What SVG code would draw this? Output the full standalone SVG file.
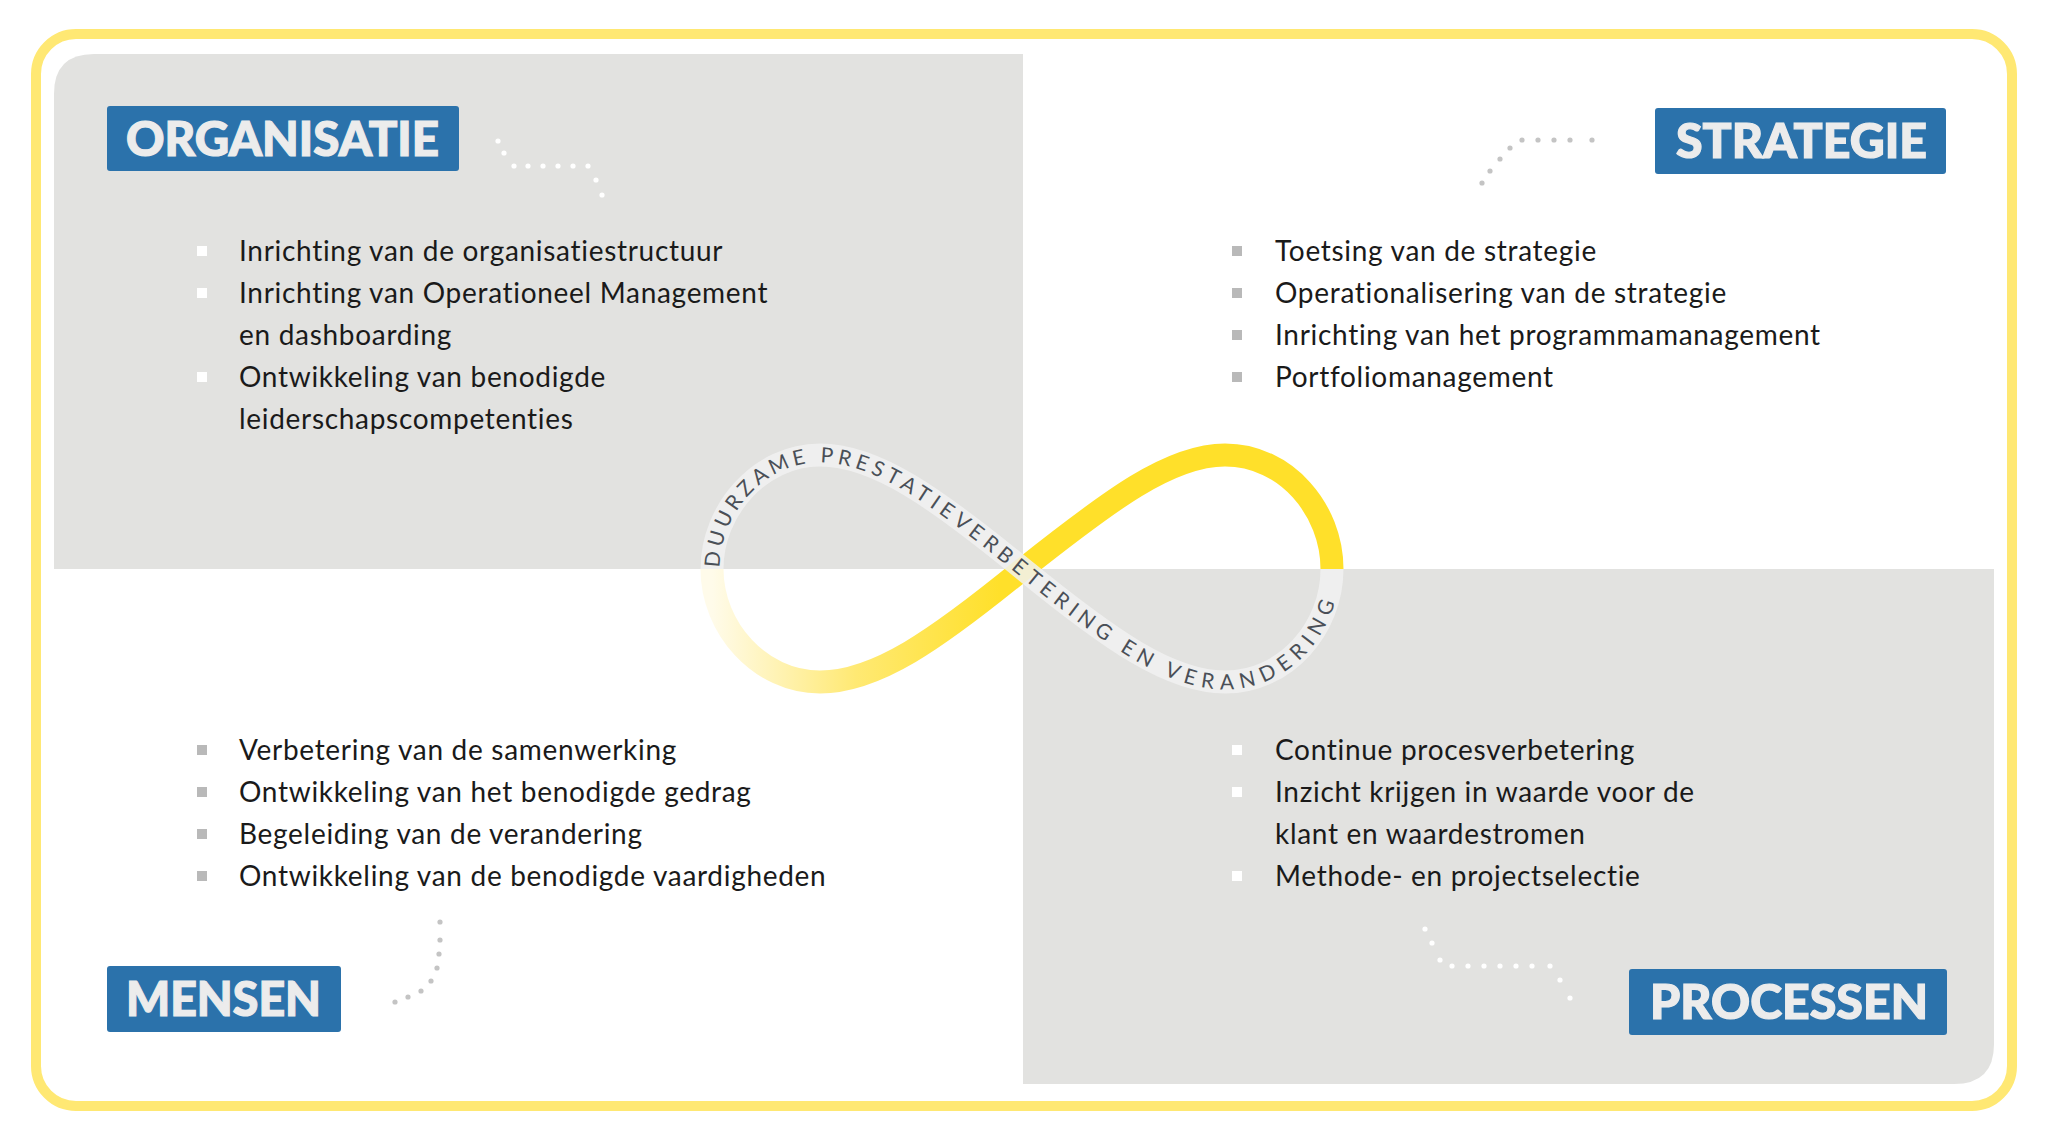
<svg xmlns="http://www.w3.org/2000/svg" xmlns:xlink="http://www.w3.org/1999/xlink" width="2048" height="1137" viewBox="0 0 2048 1137">
<style>
.t{font-family:Lato,"Liberation Sans",sans-serif;font-size:28px;letter-spacing:0.7px;fill:#1a1a1a}
.h{font-family:Lato,"Liberation Sans",sans-serif;font-size:48px;font-weight:900;fill:#ECECEC;stroke:#ECECEC;stroke-width:1.2px}
.box{fill:#2B72AB}
.bw{fill:#FFFFFF}
.bg{fill:#B9B9B9}
.dw{fill:#FFFFFF}
.dg{fill:#C4C4C4}
.inf{font-family:Lato,"Liberation Sans",sans-serif;font-size:21px;fill:#4A4F57}
</style>
<defs>
<linearGradient id="yg" gradientUnits="userSpaceOnUse" x1="712" y1="0" x2="1000" y2="0">
<stop offset="0" stop-color="#FFFBEA"/>
<stop offset="0.5" stop-color="#FFE973"/>
<stop offset="1" stop-color="#FFE02A"/>
</linearGradient>
<path id="tp" d="M712,569 C712,510 760,455 820,455 C876,455 936,498 1023,569 C1110,640 1170,682 1225,682 C1286,682 1332,628 1332,569"/>
</defs>
<rect width="2048" height="1137" fill="#FFFFFF"/>
<rect x="36" y="34" width="1976" height="1072" rx="40" fill="none" stroke="#FFE873" stroke-width="10"/>
<path d="M54,94 Q54,54 94,54 L1023,54 L1023,569 L54,569 Z" fill="#E2E2E0"/>
<path d="M1023,569 L1994,569 L1994,1044 Q1994,1084 1954,1084 L1023,1084 Z" fill="#E2E2E0"/>

<g id="connectors">
<g class="dw">
<circle cx="498" cy="141" r="2.6"/><circle cx="504" cy="153" r="2.6"/><circle cx="514" cy="166" r="2.6"/><circle cx="528" cy="166" r="2.6"/><circle cx="543" cy="166" r="2.6"/><circle cx="558" cy="166" r="2.6"/><circle cx="573" cy="166" r="2.6"/><circle cx="588" cy="166" r="2.6"/><circle cx="596" cy="180" r="2.6"/><circle cx="602" cy="195" r="2.6"/>
</g>
<g class="dg">
<circle cx="1482" cy="183" r="2.6"/><circle cx="1490" cy="171" r="2.6"/><circle cx="1500" cy="159" r="2.6"/><circle cx="1510" cy="148" r="2.6"/><circle cx="1522" cy="140" r="2.6"/><circle cx="1538" cy="140" r="2.6"/><circle cx="1554" cy="140" r="2.6"/><circle cx="1570" cy="140" r="2.6"/><circle cx="1592" cy="140" r="2.6"/>
<circle cx="395" cy="1002" r="2.6"/><circle cx="408" cy="997" r="2.6"/><circle cx="421" cy="991" r="2.6"/><circle cx="431" cy="981" r="2.6"/><circle cx="437" cy="968" r="2.6"/><circle cx="439" cy="954" r="2.6"/><circle cx="440" cy="940" r="2.6"/><circle cx="440" cy="922" r="2.6"/>
</g>
<g class="dw">
<circle cx="1425" cy="929" r="2.6"/><circle cx="1432" cy="943" r="2.6"/><circle cx="1440" cy="960" r="2.6"/><circle cx="1452" cy="966" r="2.6"/><circle cx="1468" cy="966" r="2.6"/><circle cx="1484" cy="966" r="2.6"/><circle cx="1500" cy="966" r="2.6"/><circle cx="1516" cy="966" r="2.6"/><circle cx="1532" cy="966" r="2.6"/><circle cx="1550" cy="966" r="2.6"/><circle cx="1560" cy="980" r="2.6"/><circle cx="1570" cy="998" r="2.6"/>
</g>
</g>

<g id="infinity">
<path d="M712,569 C712,628 760,682 820,682 C876,682 936,640 1023,569 C1110,500 1170,455 1225,455 C1286,455 1332,510 1332,569" fill="none" stroke="url(#yg)" stroke-width="23"/>
<use xlink:href="#tp" fill="none" stroke="#F1F1F1" stroke-width="23" stroke-opacity="0.85"/>
<text class="inf" dy="7.5"><textPath xlink:href="#tp" startOffset="2" textLength="785" lengthAdjust="spacing">DUURZAME PRESTATIEVERBETERING EN VERANDERING</textPath></text>
</g>

<g id="organisatie">
<rect class="box" x="107" y="106" width="352" height="65" rx="3"/>
<text class="h" x="126" y="156" textLength="313" lengthAdjust="spacingAndGlyphs">ORGANISATIE</text>
<rect class="bw" x="197" y="246" width="10" height="10"/>
<text class="t" x="239" y="261">Inrichting van de organisatiestructuur</text>
<rect class="bw" x="197" y="288" width="10" height="10"/>
<text class="t" x="239" y="303">Inrichting van Operationeel Management</text>
<text class="t" x="239" y="345">en dashboarding</text>
<rect class="bw" x="197" y="372" width="10" height="10"/>
<text class="t" x="239" y="387">Ontwikkeling van benodigde</text>
<text class="t" x="239" y="429">leiderschapscompetenties</text>
</g>

<g id="strategie">
<rect class="box" x="1655" y="108" width="291" height="66" rx="3"/>
<text class="h" x="1676" y="158" textLength="251" lengthAdjust="spacingAndGlyphs">STRATEGIE</text>
<rect class="bg" x="1232" y="246" width="10" height="10"/>
<text class="t" x="1275" y="261">Toetsing van de strategie</text>
<rect class="bg" x="1232" y="288" width="10" height="10"/>
<text class="t" x="1275" y="303">Operationalisering van de strategie</text>
<rect class="bg" x="1232" y="330" width="10" height="10"/>
<text class="t" x="1275" y="345">Inrichting van het programmamanagement</text>
<rect class="bg" x="1232" y="372" width="10" height="10"/>
<text class="t" x="1275" y="387">Portfoliomanagement</text>
</g>

<g id="mensen">
<rect class="box" x="107" y="966" width="234" height="66" rx="3"/>
<text class="h" x="126" y="1016" textLength="195" lengthAdjust="spacingAndGlyphs">MENSEN</text>
<rect class="bg" x="197" y="745" width="10" height="10"/>
<text class="t" x="239" y="760">Verbetering van de samenwerking</text>
<rect class="bg" x="197" y="787" width="10" height="10"/>
<text class="t" x="239" y="802">Ontwikkeling van het benodigde gedrag</text>
<rect class="bg" x="197" y="829" width="10" height="10"/>
<text class="t" x="239" y="844">Begeleiding van de verandering</text>
<rect class="bg" x="197" y="871" width="10" height="10"/>
<text class="t" x="239" y="886">Ontwikkeling van de benodigde vaardigheden</text>
</g>

<g id="processen">
<rect class="box" x="1629" y="969" width="318" height="66" rx="3"/>
<text class="h" x="1650" y="1019" textLength="278" lengthAdjust="spacingAndGlyphs">PROCESSEN</text>
<rect class="bw" x="1232" y="745" width="10" height="10"/>
<text class="t" x="1275" y="760">Continue procesverbetering</text>
<rect class="bw" x="1232" y="787" width="10" height="10"/>
<text class="t" x="1275" y="802">Inzicht krijgen in waarde voor de</text>
<text class="t" x="1275" y="844">klant en waardestromen</text>
<rect class="bw" x="1232" y="871" width="10" height="10"/>
<text class="t" x="1275" y="886">Methode- en projectselectie</text>
</g>
</svg>
